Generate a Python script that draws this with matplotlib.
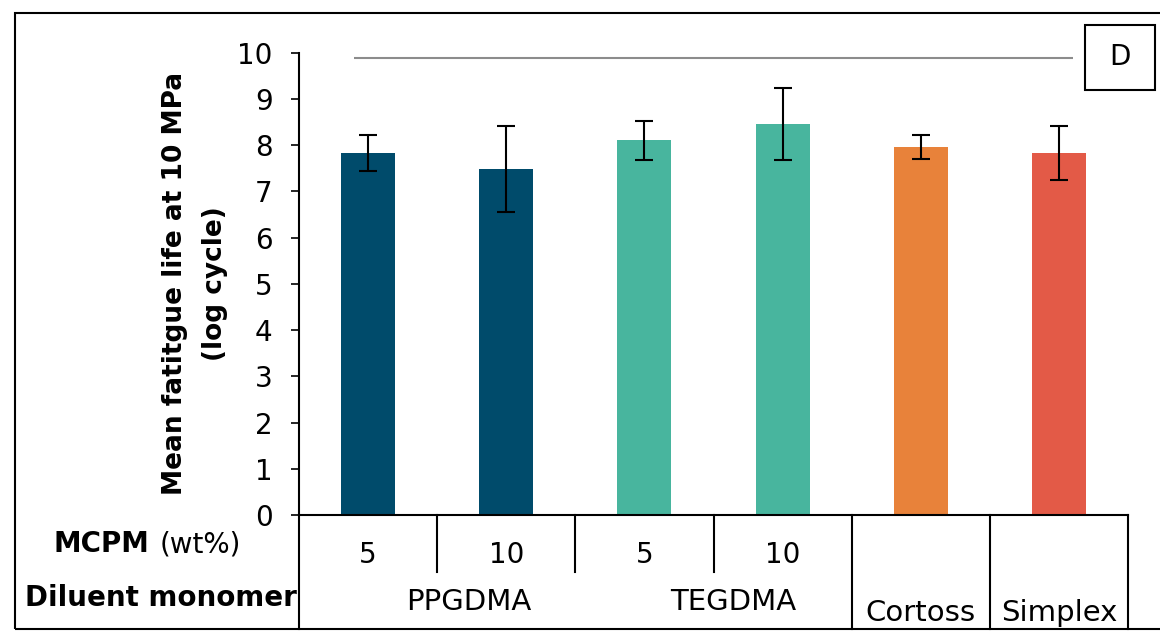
import matplotlib.pyplot as plt
from matplotlib.patches import Rectangle

# данные (mean fatigue life, log cycle) и погрешности
groups = ['PPGDMA 5', 'PPGDMA 10', 'TEGDMA 5', 'TEGDMA 10', 'Cortoss', 'Simplex']
means = [7.84, 7.48, 8.11, 8.46, 7.96, 7.83]
errors = [0.39, 0.93, 0.42, 0.77, 0.26, 0.58]
colors = ['#004b6b', '#004b6b', '#48b59e', '#48b59e', '#e8823a', '#e35a47']
mcpm_labels = ['5', '10', '5', '10']
monomer_labels = ['PPGDMA', 'TEGDMA']
commercial_labels = ['Cortoss', 'Simplex']

fig = plt.figure(figsize=(11.6, 6.32), dpi=100)
ax = fig.add_axes([0.2578, 0.1851, 0.7146, 0.7315])

x = list(range(len(groups)))
ax.bar(x, means, width=0.39, color=colors, zorder=2)
ax.errorbar(x, means, yerr=errors, fmt='none', ecolor='black',
            elinewidth=1.5, capsize=6.5, capthick=1.5, zorder=3)

# линия сверху (нет значимой разницы)
ax.hlines(9.885, -0.1, 5.1, color='#8c8c8c', lw=1.5)

ax.set_xlim(-0.5, 5.5)
ax.set_ylim(0, 10)
ax.set_yticks(range(0, 11))
ax.tick_params(axis='y', length=6, width=1.2, labelsize=20, pad=13)
ax.set_xticks([])
for s in ['top', 'right']:
    ax.spines[s].set_visible(False)
ax.spines['left'].set_linewidth(1.5)
ax.spines['bottom'].set_linewidth(1.5)
ax.spines['bottom'].set_bounds(-0.5, 5.5)

ax.set_ylabel('Mean fatitgue life at 10 MPa\n(log cycle)', fontsize=19,
              fontweight='bold', linespacing=1.7)
ax.yaxis.set_label_coords(-0.086, 0.5)

# таблица под осью
tr = ax.get_xaxis_transform()
y_mid = -0.1233
y_bot = -0.2466
for xv in [0.5, 1.5, 2.5]:
    ax.plot([xv, xv], [0, y_mid], color='black', lw=1.5, transform=tr, clip_on=False)
for xv in [-0.5, 3.5, 4.5, 5.5]:
    ax.plot([xv, xv], [0, y_bot], color='black', lw=1.5, transform=tr, clip_on=False)

for i, lab in enumerate(mcpm_labels):
    ax.text(i, -0.0865, lab, transform=tr, ha='center', va='center', fontsize=20)
for xv, lab in zip([0.73, 2.64], monomer_labels):
    ax.text(xv, -0.188, lab, transform=tr, ha='center', va='center', fontsize=21)
for xv, lab in zip([4, 5], commercial_labels):
    ax.text(xv, -0.212, lab, transform=tr, ha='center', va='center', fontsize=21)

fig.text(53 / 1160, 1 - 544 / 632, 'MCPM', fontsize=20, fontweight='bold',
         ha='left', va='center')
fig.text(241 / 1160, 1 - 544 / 632, '(wt%)', fontsize=20, ha='right', va='center')
fig.text(25 / 1160, 1 - 598 / 632, 'Diluent monomer', fontsize=20,
         fontweight='bold', ha='left', va='center')

# рамка вокруг всего рисунка
fig.patches.append(Rectangle((15 / 1160, 1 - 629 / 632), 1.1, 616 / 632,
                             transform=fig.transFigure, fill=False,
                             edgecolor='black', lw=1.5))

# метка панели D
fig.patches.append(Rectangle((1085 / 1160, 1 - 90 / 632), 70 / 1160, 65 / 632,
                             transform=fig.transFigure, fill=False,
                             edgecolor='black', lw=1.5))
fig.text(1120 / 1160, 1 - 57 / 632, 'D', fontsize=20, ha='center', va='center')

plt.savefig('out.png', dpi=100)
